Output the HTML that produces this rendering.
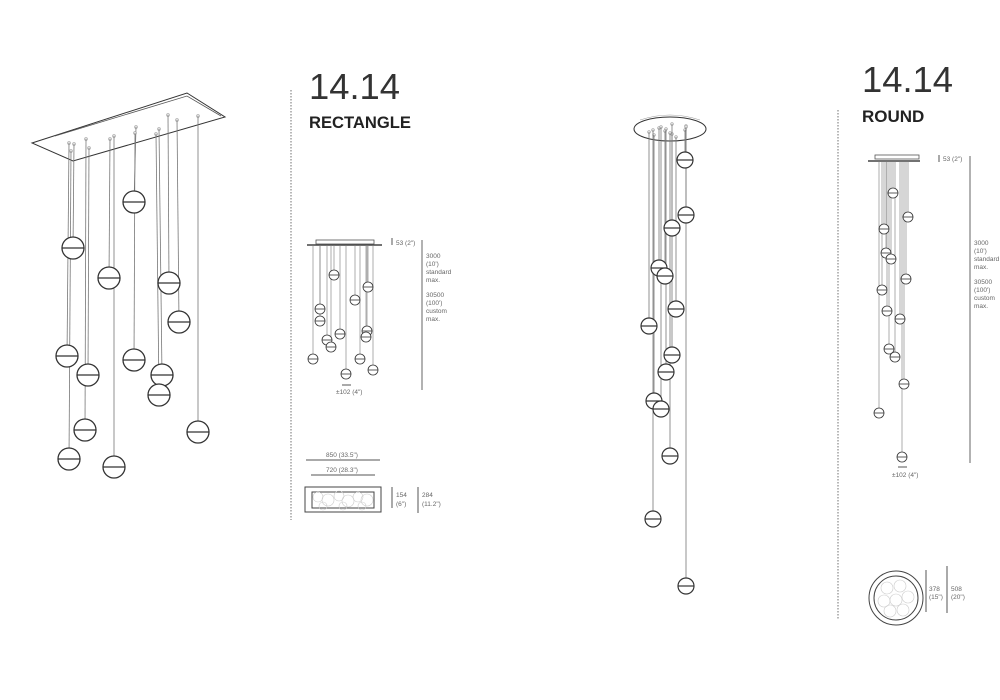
<!DOCTYPE html>
<html><head><meta charset="utf-8"><style>
html,body{margin:0;padding:0;background:#fff;width:1000px;height:700px;overflow:hidden}
svg{display:block;font-family:"Liberation Sans",sans-serif}
.s{fill:#666;font-size:6.5px}
</style></head><body>
<svg id="g" width="1000" height="700" viewBox="0 0 1000 700">
<line x1="291" y1="90" x2="291" y2="520" stroke="#888" stroke-width="1.2" stroke-dasharray="1.5,1.5"/>
<line x1="838" y1="110" x2="838" y2="620" stroke="#888" stroke-width="1.2" stroke-dasharray="1.5,1.5"/>
<text x="309" y="99" font-size="36" fill="#333" textLength="91" lengthAdjust="spacingAndGlyphs">14.14</text>
<text x="309" y="128" font-size="17" fill="#222" font-weight="bold" textLength="102" lengthAdjust="spacingAndGlyphs">RECTANGLE</text>
<text x="862" y="92" font-size="36" fill="#333" textLength="91" lengthAdjust="spacingAndGlyphs">14.14</text>
<text x="862" y="122" font-size="17" fill="#222" font-weight="bold">ROUND</text>
<polygon points="32,143 187,93 225,117 73,161" fill="none" stroke="#333" stroke-width="1"/>
<polyline points="55,136 187,96 221,116" fill="none" stroke="#555" stroke-width="0.8"/>
<ellipse cx="670" cy="129" rx="36" ry="12" fill="none" stroke="#333" stroke-width="1"/>
<path d="M640,120 Q670,110 700,120" fill="none" stroke="#999" stroke-width="0.6"/>
<rect x="316" y="240" width="58" height="4" fill="none" stroke="#555" stroke-width="0.8"/>
<line x1="307" y1="245" x2="382" y2="245" stroke="#444" stroke-width="1.5"/>
<line x1="392" y1="238" x2="392" y2="245" stroke="#555"/>
<text class="s" x="396" y="245">53 (2")</text>
<line x1="422" y1="240" x2="422" y2="390" stroke="#666" stroke-width="1"/>
<text class="s" x="426" y="258">3000</text><text class="s" x="426" y="266">(10')</text><text class="s" x="426" y="274">standard</text><text class="s" x="426" y="282">max.</text>
<text class="s" x="426" y="297">30500</text><text class="s" x="426" y="305">(100')</text><text class="s" x="426" y="313">custom</text><text class="s" x="426" y="321">max.</text>
<line x1="342" y1="385" x2="351" y2="385" stroke="#555"/>
<text class="s" x="336" y="394">±102 (4")</text>
<text class="s" x="326" y="457">850 (33.5")</text>
<line x1="306" y1="460" x2="380" y2="460" stroke="#555"/>
<text class="s" x="326" y="472">720 (28.3")</text>
<line x1="311" y1="475" x2="375" y2="475" stroke="#555"/>
<rect x="305" y="487" width="76" height="25" fill="none" stroke="#444"/>
<rect x="312" y="492" width="62" height="16" fill="none" stroke="#444"/>
<g fill="none" stroke="#ccc" stroke-width="0.6">
<circle cx="318" cy="497" r="5"/><circle cx="328" cy="500" r="6"/><circle cx="339" cy="496" r="5"/><circle cx="348" cy="501" r="6"/><circle cx="358" cy="497" r="5"/><circle cx="367" cy="500" r="6"/><circle cx="323" cy="506" r="4"/><circle cx="343" cy="506" r="4"/><circle cx="362" cy="506" r="4"/></g>
<line x1="392" y1="487" x2="392" y2="508" stroke="#555"/>
<text class="s" x="396" y="497">154</text><text class="s" x="396" y="506">(6")</text>
<line x1="418" y1="487" x2="418" y2="513" stroke="#555"/>
<text class="s" x="422" y="497">284</text><text class="s" x="422" y="506">(11.2")</text>
<rect x="875" y="155" width="44" height="4" fill="none" stroke="#555" stroke-width="0.8"/>
<line x1="868" y1="161" x2="920" y2="161" stroke="#444" stroke-width="1.5"/>
<line x1="939" y1="155" x2="939" y2="162" stroke="#555"/>
<text class="s" x="943" y="161">53 (2")</text>
<line x1="970" y1="156" x2="970" y2="463" stroke="#666"/>
<text class="s" x="974" y="245">3000</text><text class="s" x="974" y="253">(10')</text><text class="s" x="974" y="261">standard</text><text class="s" x="974" y="269">max.</text>
<text class="s" x="974" y="284">30500</text><text class="s" x="974" y="292">(100')</text><text class="s" x="974" y="300">custom</text><text class="s" x="974" y="308">max.</text>
<line x1="898" y1="467" x2="907" y2="467" stroke="#555"/>
<text class="s" x="892" y="477">±102 (4")</text>
<circle cx="896" cy="598" r="27" fill="none" stroke="#444"/>
<circle cx="896" cy="598" r="22" fill="none" stroke="#444"/>
<g fill="none" stroke="#ccc" stroke-width="0.6">
<circle cx="887" cy="588" r="6"/><circle cx="900" cy="586" r="6"/><circle cx="908" cy="597" r="6"/><circle cx="884" cy="601" r="6"/><circle cx="896" cy="600" r="6"/><circle cx="890" cy="611" r="6"/><circle cx="903" cy="610" r="6"/></g>
<line x1="926" y1="570" x2="926" y2="612" stroke="#555"/>
<text class="s" x="929" y="591">378</text><text class="s" x="929" y="599">(15")</text>
<line x1="947" y1="566" x2="947" y2="613" stroke="#555"/>
<text class="s" x="951" y="591">508</text><text class="s" x="951" y="599">(20")</text>
</svg>
<script>
var g=document.getElementById('g'),NS='http://www.w3.org/2000/svg';
function el(t,a){var e=document.createElementNS(NS,t);for(var k in a)e.setAttribute(k,a[k]);g.appendChild(e);return e}
function sph(x,y,r,w){el('circle',{cx:x,cy:y,r:r,fill:'#fff',stroke:'#333','stroke-width':w});el('line',{x1:x-r,y1:y,x2:x+r,y2:y,stroke:'#333','stroke-width':w});}
function set(list,r,w,topfn,sw){list.forEach(function(p,i){var t=topfn(p,i);el('line',{x1:t[0],y1:t[1],x2:p[0],y2:p[1],stroke:'#777','stroke-width':sw});});list.forEach(function(p){sph(p[0],p[1],r,w)});}
var L=[[73,248],[134,202],[109,278],[169,283],[179,322],[67,356],[88,375],[134,360],[162,375],[159,395],[85,430],[198,432],[69,459],[114,467]];
var LT=[[74,144],[136,127],[110,139],[168,115],[177,120],[69,143],[89,148],[135,133],[159,129],[156,134],[86,139],[198,116],[71,151],[114,136]];
set(L,11,1.3,function(p,i){el('circle',{cx:LT[i][0],cy:LT[i][1],r:1.6,fill:'#ddd',stroke:'#999','stroke-width':0.5});return LT[i]},0.8);
var M=[[685,160],[686,215],[672,228],[659,268],[665,276],[649,326],[676,309],[672,355],[666,372],[654,401],[661,409],[670,456],[653,519],[686,586]];
var MY=[130,126,134,128,131,132,137,124,129,135,127,133,130,127];
set(M,8,1.2,function(p,i){el('circle',{cx:p[0],cy:MY[i],r:1.5,fill:'#ddd',stroke:'#999','stroke-width':0.5});return [p[0],MY[i]]},0.8);
var R=[[334,275],[368,287],[355,300],[320,309],[320,321],[340,334],[367,331],[366,337],[327,340],[331,347],[313,359],[360,359],[346,374],[373,370]];
set(R,5,0.8,function(p,i){return [p[0],245]},0.6);
var Q=[[893,193],[908,217],[884,229],[886,253],[891,259],[906,279],[882,290],[887,311],[900,319],[889,349],[895,357],[904,384],[879,413],[902,457]];
set(Q,5,0.8,function(p,i){return [p[0],161]},0.6);
</script>
</body></html>
